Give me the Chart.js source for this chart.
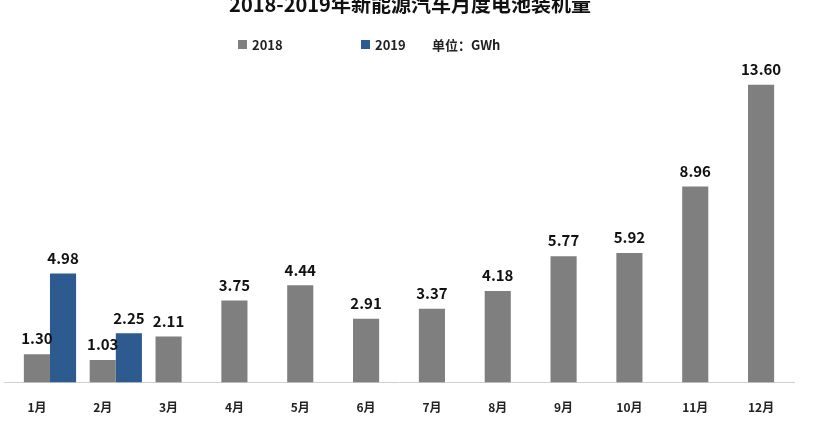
<!DOCTYPE html>
<html lang="zh">
<head>
<meta charset="UTF-8">
<title>2018-2019年新能源汽车月度电池装机量</title>
<script src="https://cdn.jsdelivr.net/npm/chart.js"></script>
<style>
  body { margin: 0; background: #fff; }
  #wrap { width: 820px; height: 432px; }
</style>
</head>
<body>
<div id="wrap"><canvas id="c"></canvas></div>
<script>
const months = ["1月", "2月", "3月", "4月", "5月", "6月", "7月", "8月", "9月", "10月", "11月", "12月"];
const values2018 = [1.30, 1.03, 2.11, 3.75, 4.44, 2.91, 3.37, 4.18, 5.77, 5.92, 8.96, 13.60];
const values2019 = [4.98, 2.25, null, null, null, null, null, null, null, null, null, null];
const titleText = "2018-2019年新能源汽车月度电池装机量";
const unitText = "单位：GWh";

const GRAY = "#7f7f7f", BLUE = "#2e5b8f";
const FONT = "'Noto Sans CJK SC', 'Noto Sans', sans-serif";

const overlay = {
  id: "overlay",
  afterDatasetsDraw(chart) {
    const ctx = chart.ctx;
    ctx.save();
    // value labels
    ctx.fillStyle = "#111";
    ctx.font = "bold 15px " + FONT;
    ctx.textAlign = "center";
    ctx.textBaseline = "bottom";
    [1, 2].forEach(di => {
      const meta = chart.getDatasetMeta(di);
      meta.data.forEach((bar, i) => {
        const v = chart.data.datasets[di].data[i];
        if (v == null) return;
        ctx.fillText(v.toFixed(2), bar.x, bar.y - 8);
      });
    });
    // title
    ctx.font = "bold 20px " + FONT;
    ctx.textBaseline = "middle";
    ctx.fillText(titleText, 410, 4);
    // legend
    ctx.font = "bold 13px " + FONT;
    ctx.textAlign = "left";
    ctx.fillStyle = GRAY; ctx.fillRect(238, 40, 9, 9);
    ctx.fillStyle = BLUE; ctx.fillRect(361, 40, 9, 9);
    ctx.fillStyle = "#222";
    ctx.fillText("2018", 252, 45);
    ctx.fillText("2019", 375, 45);
    ctx.fillText(unitText, 432, 45);
    ctx.restore();
  }
};

new Chart(document.getElementById("c"), {
  type: "bar",
  data: {
    labels: months,
    datasets: [
      { label: "", data: months.map(() => null) },
      { label: "2018", data: values2018, backgroundColor: GRAY },
      { label: "2019", data: values2019, backgroundColor: BLUE }
    ]
  },
  options: {
    responsive: true,
    maintainAspectRatio: false,
    animation: false,
    datasets: { bar: { categoryPercentage: 1.19, barPercentage: 1 } },
    layout: { padding: { left: 4, right: 26, top: 76, bottom: 7 } },
    plugins: { legend: { display: false }, tooltip: { enabled: false } },
    scales: {
      x: {
        grid: { display: false },
        border: { color: "#d0d0d0" },
        ticks: { color: "#222", font: { size: 12, family: FONT, weight: "bold" }, padding: 10 }
      },
      y: { display: false, min: 0, max: 14 }
    }
  },
  plugins: [overlay]
});
</script>
</body>
</html>
